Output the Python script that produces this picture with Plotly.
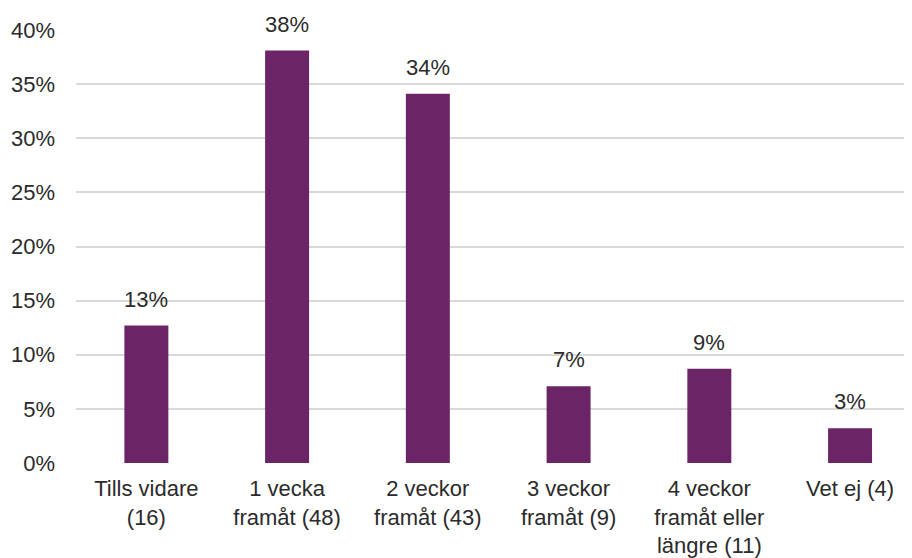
import plotly.graph_objects as go

categories = ["Tills vidare<br>(16)", "1 vecka<br>framåt (48)", "2 veckor<br>framåt (43)",
              "3 veckor<br>framåt (9)", "4 veckor<br>framåt eller<br>längre (11)", "Vet ej (4)"]
values = [0.127, 0.381, 0.341, 0.071, 0.087, 0.032]
labels = ["13%", "38%", "34%", "7%", "9%", "3%"]
yticks = [0, 0.05, 0.10, 0.15, 0.20, 0.25, 0.30, 0.35, 0.40]
yticklabels = ["0%", "5%", "10%", "15%", "20%", "25%", "30%", "35%", "40%"]

FONT = "Liberation Sans, Arial, sans-serif"
TXT = "#2B2B2B"
FS = 22

fig = go.Figure()
fig.add_trace(go.Bar(x=list(range(len(categories))), y=values, width=0.3125,
                     marker=dict(color="#6B2567", line=dict(width=0)),
                     hoverinfo="skip"))

for i, (v, t) in enumerate(zip(values, labels)):
    fig.add_annotation(x=i, y=v, text=t, showarrow=False, yanchor="bottom",
                       yshift=12, font=dict(family=FONT, size=FS, color=TXT))

fig.update_layout(
    width=904, height=550,
    margin=dict(l=68, r=0, t=22, b=95),
    paper_bgcolor="white", plot_bgcolor="white",
    showlegend=False,
    font=dict(family=FONT, size=FS, color=TXT),
    xaxis=dict(range=[-0.5, 5.44], tickmode="array", tickvals=list(range(len(categories))),
               ticktext=categories, showgrid=False, zeroline=False, showline=False,
               ticks="", ticklabelstandoff=10, automargin=False,
               tickfont=dict(size=FS, color=TXT)),
    yaxis=dict(range=[0, 0.4], tickmode="array", tickvals=yticks, ticktext=yticklabels,
               showgrid=True, gridcolor="#D9D9D9", gridwidth=2, zeroline=False,
               showline=False, ticks="", ticklabelstandoff=20, automargin=False,
               tickfont=dict(size=FS, color=TXT)),
)
fig.update_traces(cliponaxis=False)

fig.write_html("out.html")
